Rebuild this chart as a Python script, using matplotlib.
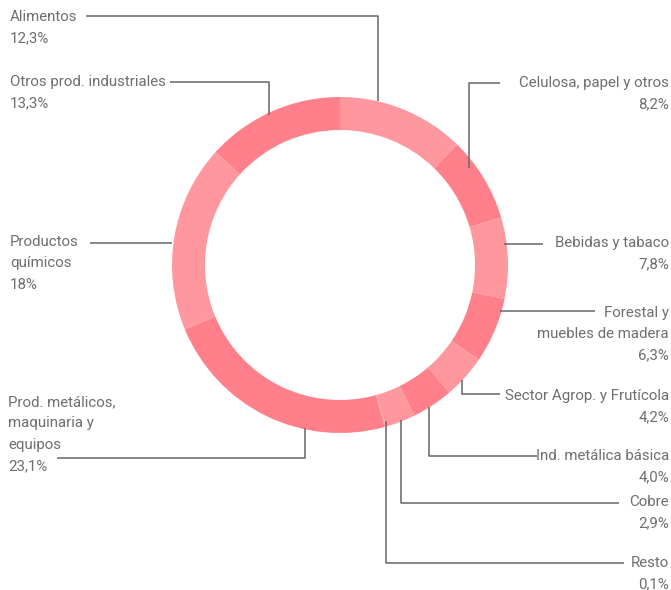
import matplotlib
matplotlib.use("Agg")
import matplotlib.pyplot as plt

# sectores, en orden horario desde arriba
sectors = ["Alimentos", "Celulosa, papel y otros", "Bebidas y tabaco",
           "Forestal y\nmuebles de madera", "Sector Agrop. y Frutícola",
           "Ind. metálica básica", "Cobre", "Resto",
           "Prod. metálicos,\nmaquinaria y\nequipos", "Productos\nquímicos",
           "Otros prod. industriales"]
shares = [12.3, 8.2, 7.8, 6.3, 4.2, 4.0, 2.9, 0.1, 23.1, 18.0, 13.3]
share_labels = ["12,3%", "8,2%", "7,8%", "6,3%", "4,2%", "4,0%", "2,9%",
                "0,1%", "23,1%", "18%", "13,3%"]

light, dark = "#ff989e", "#ff808a"
colors = [light, dark, light, dark, light, dark, light, light, dark, light, dark]

W, H = 671, 590
fig = plt.figure(figsize=(W / 100, H / 100), dpi=100)
ax = fig.add_axes([0, 0, 1, 1])

# pixel coords, y inverted -> counterclock=True draws clockwise on screen
ax.pie(shares, colors=colors, startangle=-90, counterclock=True,
       center=(340, 265), radius=168, frame=True,
       wedgeprops=dict(width=33, linewidth=0))

ax.set_xlim(0, W)
ax.set_ylim(H, 0)
ax.set_aspect("equal")
ax.axis("off")

# label layout: (x, ha, y of first line)
layout = [
    (10, "left", 17),
    (669, "right", 83),
    (669, "right", 243),
    (669, "right", 313),
    (669, "right", 396),
    (669, "right", 456),
    (669, "right", 502),
    (669, "right", 563),
    (8, "left", 402),
    (10, "left", 242),
    (10, "left", 82),
]
# leader polylines in pixels
leaders = [
    [(86, 16), (378, 16), (378, 101)],
    [(500, 83), (469, 83), (469, 168)],
    [(543, 244), (504, 244)],
    [(595, 311), (500, 311)],
    [(462, 380), (462, 394), (500, 394)],
    [(429, 407), (429, 456), (537, 456)],
    [(401, 420), (401, 503), (619, 503)],
    [(386, 421), (386, 563), (624, 563)],
    [(57, 458), (305, 458), (305, 428)],
    [(90, 243), (172, 243)],
    [(170, 82), (269, 82), (269, 115)],
]

txt_color = "#6e6e6e"
line_h = 21.3
for name, pct, (x, ha, y0), pts in zip(sectors, share_labels, layout, leaders):
    lines = name.split("\n") + [pct]
    for i, ln in enumerate(lines):
        ax.text(x, y0 + i * line_h, ln, ha=ha, va="center", fontsize=10.8,
                color=txt_color, family="Roboto")
    xs, ys = zip(*pts)
    ax.plot(xs, ys, color="#666666", lw=1.1, solid_capstyle="butt")

fig.savefig("out.png", dpi=100, facecolor="white")
